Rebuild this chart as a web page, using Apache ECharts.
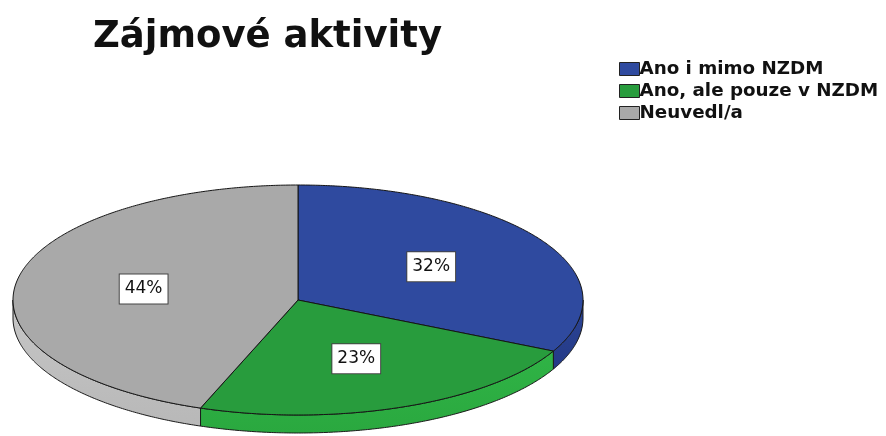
<!DOCTYPE html>
<html>
<head>
<meta charset="utf-8">
<script src="https://cdn.jsdelivr.net/npm/echarts@6/dist/echarts.min.js"></script>
<style>
    html, body { margin: 0; padding: 0; background: #fff; }
    #chart { width: 886px; height: 436px; }
</style>
</head>
<body>
<div id="chart"></div>
<script>
const categories = ['Ano i mimo NZDM', 'Ano, ale pouze v NZDM', 'Neuvedl/a'];
const values = [32, 23, 44];
const percentLabels = ['32%', '23%', '44%'];

const topColors = ['#2f4a9f', '#289c3d', '#a9a9a9'];
const sideColors = [['#2c4597', '#243a86'], ['#30b446', '#2aa83f'], ['#c6c6c6', '#b8b8b8']];

const chart = echarts.init(document.getElementById('chart'));

const total = values.reduce((s, v) => s + v, 0);
const starts = [];
let acc = 0;
values.forEach(v => { starts.push(acc); acc += v; });

// ellipse geometry of the "3D" pie
const pie = { cx: 298, cy: 300, rx: 285, ry: 115, depth: 18, labelR: 0.55 };

const pt = (deg, dy = 0, k = 1) => {
    const r = deg * Math.PI / 180;
    return [pie.cx + pie.rx * k * Math.sin(r), pie.cy - pie.ry * k * Math.cos(r) + dy];
};

const makeRender = (idx) => (params, api) => {
    const a = starts[idx] / total * 360;
    const b = (starts[idx] + values[idx]) / total * 360;
    const children = [];

    // visible side wall: front half of the ellipse (90..270 deg)
    const sa = Math.max(a, 90), sb = Math.min(b, 270);
    if (sb > sa) {
        const topEdge = [], bottomEdge = [];
        for (let d = sa; d <= sb; d += 0.5) {
            topEdge.push(pt(d));
            bottomEdge.push(pt(d, pie.depth));
        }
        topEdge.push(pt(sb));
        bottomEdge.push(pt(sb, pie.depth));
        children.push({
            type: 'polygon',
            shape: { points: topEdge.concat(bottomEdge.reverse()) },
            style: {
                fill: new echarts.graphic.LinearGradient(0, 0, 0, 1, [
                    { offset: 0, color: sideColors[idx][0] },
                    { offset: 1, color: sideColors[idx][1] }
                ]),
                stroke: '#1a1a1a',
                lineWidth: 1
            },
            z2: 1
        });
    }

    // top surface
    const pts = [[pie.cx, pie.cy]];
    for (let d = a; d <= b; d += 0.5) pts.push(pt(d));
    pts.push(pt(b));
    children.push({
        type: 'polygon',
        shape: { points: pts },
        style: { fill: topColors[idx], stroke: '#151515', lineWidth: 1 },
        z2: 2
    });

    // percentage label
    const lp = pt((a + b) / 2, 0, pie.labelR);
    children.push({
        type: 'text',
        x: lp[0],
        y: lp[1],
        style: {
            text: percentLabels[idx],
            align: 'center',
            verticalAlign: 'middle',
            fill: '#111',
            font: '17px "DejaVu Sans"',
            lineHeight: 17,
            backgroundColor: '#fff',
            borderColor: '#444',
            borderWidth: 1,
            padding: [6, 5]
        },
        z2: 3
    });

    return { type: 'group', children };
};

const option = {
    backgroundColor: '#fff',
    animation: false,
    title: {
        text: 'Zájmové aktivity',
        left: 88,
        top: 14,
        textStyle: {
            fontFamily: 'DejaVu Sans',
            fontWeight: 'bold',
            fontSize: 37,
            color: '#111'
        }
    },
    legend: {
        orient: 'vertical',
        left: 614,
        top: 55,
        itemWidth: 20,
        itemHeight: 13,
        itemGap: 4,
        icon: 'rect',
        itemStyle: { borderColor: '#222', borderWidth: 1 },
        textStyle: {
            fontFamily: 'DejaVu Sans',
            fontWeight: 'bold',
            fontSize: 18.3,
            color: '#111',
            padding: [0, 0, 0, -5]
        },
        data: categories
    },
    series: categories.map((name, i) => ({
        type: 'custom',
        name: name,
        coordinateSystem: 'none',
        itemStyle: { color: topColors[i] },
        renderItem: makeRender(i),
        data: [values[i]]
    }))
};

chart.setOption(option);
</script>
</body>
</html>
